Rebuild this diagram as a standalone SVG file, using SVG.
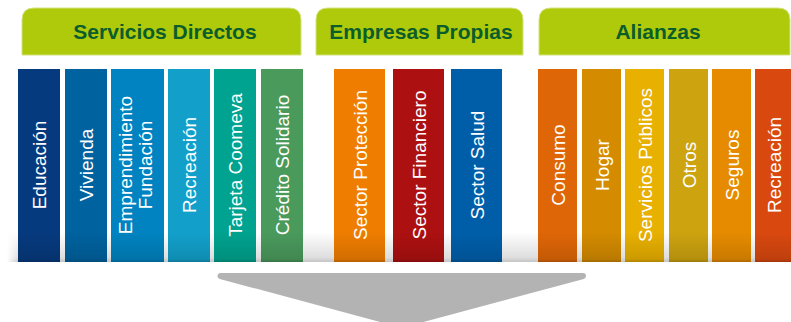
<svg xmlns="http://www.w3.org/2000/svg" width="791" height="322" viewBox="0 0 791 322">
  <defs>
    <linearGradient id="floor" x1="0" y1="0" x2="0" y2="1">
      <stop offset="0" stop-color="#ffffff"/>
      <stop offset="0.85" stop-color="#dedede"/>
      <stop offset="1" stop-color="#c4c4c4"/>
    </linearGradient>
    <linearGradient id="floorEdge" x1="0" y1="0" x2="1" y2="0">
      <stop offset="0" stop-color="#ffffff" stop-opacity="1"/>
      <stop offset="1" stop-color="#ffffff" stop-opacity="0"/>
    </linearGradient>
    <linearGradient id="shade" x1="0" y1="0" x2="0" y2="1">
      <stop offset="0" stop-color="#000000" stop-opacity="0"/>
      <stop offset="0.9" stop-color="#000000" stop-opacity="0.12"/>
      <stop offset="1" stop-color="#000000" stop-opacity="0.25"/>
    </linearGradient>
    <style>
      .tab { fill: #afca0b; stroke: #d3e27c; stroke-width: 1; }
      .tabtxt { font-family: "Liberation Sans", Arial, sans-serif; font-weight: bold; font-size: 21px; fill: #0b5d2b; text-anchor: middle; }
      .lbl { font-family: "Liberation Sans", Arial, sans-serif; font-size: 19px; fill: #ffffff; text-anchor: middle; }
      .shade { fill: url(#shade); }
    </style>
  </defs>

  <!-- floor reflection band -->
  <rect x="7" y="232" width="784" height="30" fill="url(#floor)"/>
  <rect x="7" y="232" width="12" height="30" fill="url(#floorEdge)"/>

  <!-- header tabs -->
  <g id="tab-servicios-directos">
    <path class="tab" d="M22,55 V20 Q22,8 34,8 H289 Q301,8 301,20 V55 Z"/>
    <text class="tabtxt" x="165" y="39">Servicios Directos</text>
  </g>
  <g id="tab-empresas-propias">
    <path class="tab" d="M316,55 V20 Q316,8 328,8 H511 Q523,8 523,20 V55 Z"/>
    <text class="tabtxt" x="421" y="39">Empresas Propias</text>
  </g>
  <g id="tab-alianzas">
    <path class="tab" d="M539,55 V20 Q539,8 551,8 H778 Q790,8 790,20 V55 Z"/>
    <text class="tabtxt" x="658" y="39">Alianzas</text>
  </g>

  <!-- columns -->
  <g id="col-educacion">
    <rect x="18" y="69" width="42" height="193" fill="#063a7e"/>
    <rect class="shade" x="18" y="232" width="42" height="30"/>
    <text class="lbl" transform="translate(46,165) rotate(-90)">Educación</text>
  </g>
  <g id="col-vivienda">
    <rect x="65" y="69" width="42" height="193" fill="#00629f"/>
    <rect class="shade" x="65" y="232" width="42" height="30"/>
    <text class="lbl" transform="translate(93,165) rotate(-90)">Vivienda</text>
  </g>
  <g id="col-emprendimiento">
    <rect x="111" y="69" width="53" height="193" fill="#0083c0"/>
    <rect class="shade" x="111" y="232" width="53" height="30"/>
    <text class="lbl" transform="translate(132,165) rotate(-90)">Emprendimiento</text>
    <text class="lbl" transform="translate(152,165) rotate(-90)">Fundación</text>
  </g>
  <g id="col-recreacion-1">
    <rect x="168" y="69" width="42" height="193" fill="#12a0cb"/>
    <rect class="shade" x="168" y="232" width="42" height="30"/>
    <text class="lbl" transform="translate(196,165) rotate(-90)">Recreación</text>
  </g>
  <g id="col-tarjeta">
    <rect x="214" y="69" width="42" height="193" fill="#00a38f"/>
    <rect class="shade" x="214" y="232" width="42" height="30"/>
    <text class="lbl" transform="translate(242,165) rotate(-90)">Tarjeta Coomeva</text>
  </g>
  <g id="col-credito">
    <rect x="261" y="69" width="42" height="193" fill="#4a9a5c"/>
    <rect class="shade" x="261" y="232" width="42" height="30"/>
    <text class="lbl" transform="translate(289,165) rotate(-90)">Crédito Solidario</text>
  </g>
  <g id="col-sector-proteccion">
    <rect x="334" y="69" width="51" height="193" fill="#ef7d00"/>
    <rect class="shade" x="334" y="232" width="51" height="30"/>
    <text class="lbl" transform="translate(366.5,165) rotate(-90)">Sector Protección</text>
  </g>
  <g id="col-sector-financiero">
    <rect x="393" y="69" width="51" height="193" fill="#ad1010"/>
    <rect class="shade" x="393" y="232" width="51" height="30"/>
    <text class="lbl" transform="translate(425.5,165) rotate(-90)">Sector Financiero</text>
  </g>
  <g id="col-sector-salud">
    <rect x="451" y="69" width="51" height="193" fill="#005ea9"/>
    <rect class="shade" x="451" y="232" width="51" height="30"/>
    <text class="lbl" transform="translate(483.5,165) rotate(-90)">Sector Salud</text>
  </g>
  <g id="col-consumo">
    <rect x="538" y="69" width="39" height="193" fill="#df6607"/>
    <rect class="shade" x="538" y="232" width="39" height="30"/>
    <text class="lbl" transform="translate(564.5,165) rotate(-90)">Consumo</text>
  </g>
  <g id="col-hogar">
    <rect x="582" y="69" width="39" height="193" fill="#d48b00"/>
    <rect class="shade" x="582" y="232" width="39" height="30"/>
    <text class="lbl" transform="translate(608.5,165) rotate(-90)">Hogar</text>
  </g>
  <g id="col-servicios-publicos">
    <rect x="625" y="69" width="39" height="193" fill="#e8b000"/>
    <rect class="shade" x="625" y="232" width="39" height="30"/>
    <text class="lbl" transform="translate(651.5,165) rotate(-90)">Servicios Públicos</text>
  </g>
  <g id="col-otros">
    <rect x="669" y="69" width="39" height="193" fill="#cda30f"/>
    <rect class="shade" x="669" y="232" width="39" height="30"/>
    <text class="lbl" transform="translate(695.5,165) rotate(-90)">Otros</text>
  </g>
  <g id="col-seguros">
    <rect x="712" y="69" width="39" height="193" fill="#e68b00"/>
    <rect class="shade" x="712" y="232" width="39" height="30"/>
    <text class="lbl" transform="translate(738.5,165) rotate(-90)">Seguros</text>
  </g>
  <g id="col-recreacion-2">
    <rect x="755" y="69" width="40" height="193" fill="#d9480f"/>
    <rect class="shade" x="755" y="232" width="40" height="30"/>
    <text class="lbl" transform="translate(781,165) rotate(-90)">Recreación</text>
  </g>

  <!-- connectors -->
  <g id="connectors">
    <polygon points="220.5,276 583,276 401.75,324.7" fill="#b3b3b3" stroke="#b3b3b3" stroke-width="6" stroke-linejoin="round"/>
  </g>
</svg>
